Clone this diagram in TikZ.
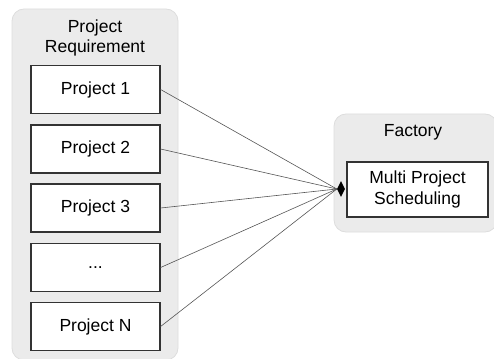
\documentclass[tikz,border=0pt]{standalone}
\usepackage{fontspec}
\setmainfont{Liberation Sans}
\usetikzlibrary{shapes.geometric}
\definecolor{panelfill}{HTML}{EBEBEB}
\definecolor{paneledge}{HTML}{DDDDDD}
\definecolor{linkgray}{HTML}{555555}
\begin{document}
\begin{tikzpicture}[x=1pt,y=-1pt,
  panel/.style={draw=paneledge,fill=panelfill,rounded corners=12pt,line width=0.8pt},
  projbox/.style={draw=black!80,fill=white,line width=1.2pt,minimum width=129pt,minimum height=48pt,inner sep=0pt,font=\fontsize{17.5}{21}\selectfont},
  title/.style={font=\fontsize{17.5}{20}\selectfont,align=center},
  link/.style={draw=linkgray,line width=0.6pt}]
\useasboundingbox (0,0) rectangle (494,358);
% panels
\path[panel] (12,9) rectangle (178,360);
\path[panel] (334,114) rectangle (497,232);
\node[title] (reqtitle) at (95,38) {Project\\Requirement};
\node[title] (factitle) at (413,132) {Factory};
% project boxes
\node[projbox] (p1) at (95.5,89.5) {Project 1};
\node[projbox] (p2) at (95.5,149) {Project 2};
\node[projbox] (p3) at (95.5,208) {Project 3};
\node[projbox] (p4) at (95.5,267.5) {...};
\node[projbox] (pn) at (95.5,326.5) {Project N};
% scheduling box
\node[projbox,minimum width=141pt,minimum height=55pt,align=center] (mps) at (417.5,189.5) {Multi Project\\Scheduling};
% hub where all links meet
\node[diamond,fill=black,inner sep=0pt,minimum width=8pt,minimum height=16pt] (hub) at (341,189) {};
\foreach \p in {p1,p2,p3,p4,pn}
  \draw[link] (\p.east) -- (hub.west);
\end{tikzpicture}
\end{document}
